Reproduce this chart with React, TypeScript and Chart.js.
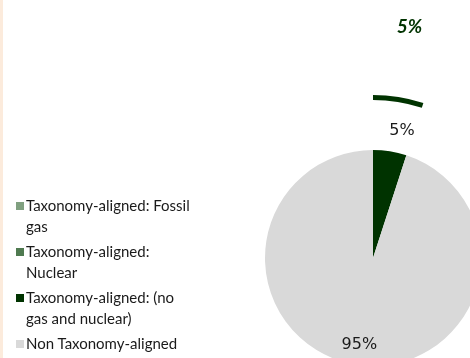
import React, { useEffect, useRef } from "react";
import { Chart, registerables } from "chart.js";

Chart.register(...registerables);

const categories: string[][] = [
  ["Taxonomy-aligned: Fossil", "gas"],
  ["Taxonomy-aligned:", "Nuclear"],
  ["Taxonomy-aligned: (no", "gas and nuclear)"],
  ["Non Taxonomy-aligned"],
];
const includingValues: number[] = [0, 0, 5, 95];
const outerValues: number[] = [0, 0, 5, 95];
const colors: string[] = ["#80A080", "#4F7A50", "#003300", "#D9D9D9"];
const outerColors: string[] = ["rgba(0,0,0,0)", "rgba(0,0,0,0)", "#003300", "rgba(0,0,0,0)"];

const pctLabels = {
  id: "pctLabels",
  afterDatasetsDraw(chart: any) {
    const ctx = chart.ctx;
    chart.data.datasets.forEach((ds: any, di: number) => {
      const cfg = ds.labelCfg;
      if (!cfg) return;
      const meta = chart.getDatasetMeta(di);
      const total = ds.data.reduce((a: number, b: number) => a + b, 0);
      meta.data.forEach((arc: any, i: number) => {
        const v = ds.data[i];
        if (!v || !cfg.radius[i]) return;
        const p = arc.getProps(["x", "y", "startAngle", "endAngle", "outerRadius"], true);
        const mid = (p.startAngle + p.endAngle) / 2 + (cfg.angleShift ? cfg.angleShift[i] : 0);
        const r = p.outerRadius * cfg.radius[i];
        const x = p.x + Math.cos(mid) * r;
        const y = p.y + Math.sin(mid) * r;
        ctx.save();
        ctx.font = cfg.font;
        ctx.fillStyle = cfg.color;
        ctx.textAlign = "center";
        ctx.textBaseline = "middle";
        ctx.fillText(Math.round((v / total) * 100) + "%", x, y);
        ctx.restore();
      });
    });
  },
};

export default function App() {
  const ref = useRef<HTMLCanvasElement>(null);
  useEffect(() => {
    const chart = new Chart(ref.current as HTMLCanvasElement, {
      type: "pie",
      data: {
        labels: categories.map((c) => c.join(" ")),
        datasets: [
          {
            data: outerValues,
            backgroundColor: outerColors,
            borderWidth: 0,
            weight: 5,
            radius: 163,
            clip: false,
            labelCfg: {
              radius: [0, 0, 1.435, 0],
              font: "italic bold 19px Lato",
              color: "#003300",
            },
          } as any,
          {
            data: [1],
            backgroundColor: ["rgba(0,0,0,0)"],
            borderWidth: 0,
            weight: 50,
            radius: 163,
            clip: false,
          } as any,
          {
            data: includingValues,
            backgroundColor: colors,
            borderWidth: 0,
            weight: 108,
            radius: 163,
            clip: false,
            labelCfg: {
              radius: [0, 0, 1.21, 0.81],
              angleShift: [0, 0, 0.066, 0],
              font: "16px 'DejaVu Sans'",
              color: "#1a1a1a",
            },
          } as any,
        ],
      },
      options: {
        responsive: false,
        animation: false,
        layout: { padding: { left: 276, right: 0, top: 158, bottom: 0 } },
        plugins: {
          legend: { display: false },
          tooltip: { enabled: false },
        },
      },
      plugins: [pctLabels],
    });
    return () => chart.destroy();
  }, []);

  return (
    <div
      style={{
        position: "fixed",
        left: 0,
        top: 0,
        width: 470,
        height: 358,
        background: "#ffffff",
        overflow: "hidden",
      }}
    >
      <div
        style={{
          position: "absolute",
          left: 0,
          top: 0,
          width: 3,
          height: 358,
          background: "#FCEBDC",
        }}
      />
      <canvas ref={ref} width={470} height={358} style={{ position: "absolute", left: 0, top: 0 }} />
      <div
        style={{
          position: "absolute",
          left: 16,
          top: 195,
          fontFamily: "Lato",
          fontSize: 15,
          color: "#1a1a1a",
        }}
      >
        {categories.map((lines, i) => (
          <div key={i} style={{ display: "flex", alignItems: "flex-start", marginBottom: 5 }}>
            <div
              style={{
                width: 8,
                height: 8,
                background: colors[i],
                marginTop: 7,
                marginRight: 2,
                flex: "none",
              }}
            />
            <div style={{ lineHeight: "20.5px" }}>
              {lines.map((l, j) => (
                <div key={j}>{l}</div>
              ))}
            </div>
          </div>
        ))}
      </div>
    </div>
  );
}
